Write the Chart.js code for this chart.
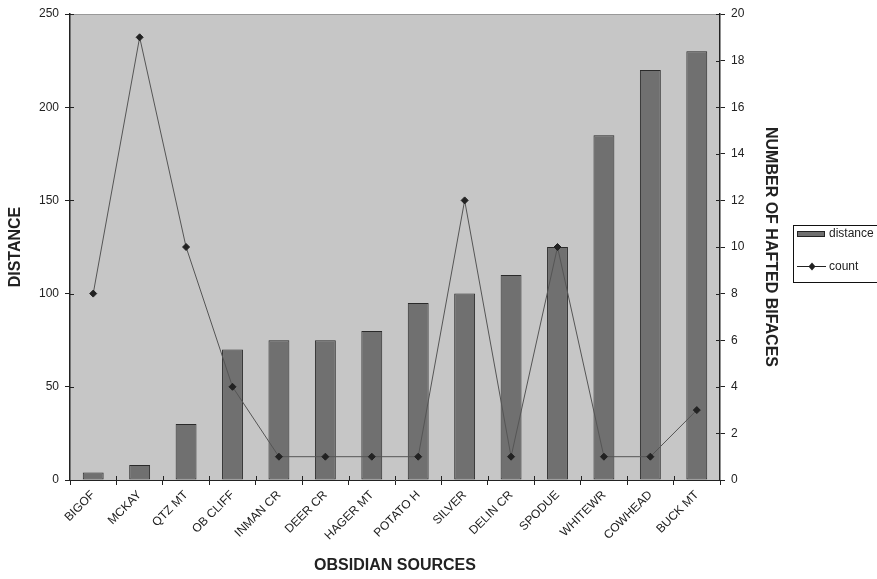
<!DOCTYPE html>
<html>
<head>
<meta charset="utf-8">
<script src="https://cdn.jsdelivr.net/npm/chart.js"></script>
<style>
  html, body { margin: 0; padding: 0; background: #fff; }
  #wrap { width: 877px; height: 579px; position: relative; }
</style>
</head>
<body>
<div id="wrap"><canvas id="chart" width="877" height="579"></canvas></div>
<script>
const sources = ['BIGOF', 'MCKAY', 'QTZ MT', 'OB CLIFF', 'INMAN CR', 'DEER CR', 'HAGER MT',
  'POTATO H', 'SILVER', 'DELIN CR', 'SPODUE', 'WHITEWR', 'COWHEAD', 'BUCK MT'];
const distance = [4, 8, 30, 70, 75, 75, 80, 95, 100, 110, 125, 185, 220, 230];
const count = [8, 19, 10, 4, 1, 1, 1, 1, 12, 1, 10, 1, 1, 3];

const FONT = 'Liberation Sans, Arial, sans-serif';
const INK = '#222';

// grey plot background + thin top border
const plotBg = {
  id: 'plotBg',
  beforeDraw(chart) {
    const a = chart.chartArea, ctx = chart.ctx;
    ctx.save();
    ctx.fillStyle = '#c6c6c6';
    ctx.fillRect(a.left, a.top, a.right - a.left, a.bottom - a.top);
    ctx.strokeStyle = '#999';
    ctx.lineWidth = 1;
    ctx.beginPath();
    ctx.moveTo(a.left, a.top + 0.5);
    ctx.lineTo(a.right, a.top + 0.5);
    ctx.stroke();
    ctx.restore();
  }
};

// the original's tick marks cross the axes, so add the inner half
const innerTicks = {
  id: 'innerTicks',
  afterDraw(chart) {
    const ctx = chart.ctx, a = chart.chartArea;
    const { y, y1, x } = chart.scales;
    ctx.save();
    ctx.strokeStyle = INK;
    ctx.lineWidth = 1;
    ctx.beginPath();
    y.ticks.forEach(t => {
      const py = Math.round(y.getPixelForValue(t.value)) + 0.5;
      ctx.moveTo(a.left, py); ctx.lineTo(a.left + 4, py);
    });
    y1.ticks.forEach(t => {
      const py = Math.round(y1.getPixelForValue(t.value)) + 0.5;
      ctx.moveTo(a.right - 4, py); ctx.lineTo(a.right, py);
    });
    const step = (a.right - a.left) / sources.length;
    for (let i = 1; i < sources.length; i++) {
      const px = Math.round(a.left + i * step) + 0.5;
      ctx.moveTo(px, a.bottom); ctx.lineTo(px, a.bottom - 4);
    }
    ctx.stroke();
    ctx.restore();
  }
};

// boxed legend on the right, like the original
const boxLegend = {
  id: 'boxLegend',
  afterDraw(chart) {
    const ctx = chart.ctx;
    ctx.save();
    ctx.strokeStyle = '#111';
    ctx.lineWidth = 1;
    ctx.strokeRect(793.5, 225.5, 90, 57);
    // bar swatch
    ctx.fillStyle = '#707070';
    ctx.fillRect(797, 231, 28, 6);
    ctx.strokeStyle = '#222';
    ctx.strokeRect(797.5, 231.5, 27, 5);
    // line swatch
    ctx.beginPath();
    ctx.moveTo(797, 266.5);
    ctx.lineTo(826, 266.5);
    ctx.stroke();
    ctx.fillStyle = '#222';
    ctx.beginPath();
    ctx.moveTo(812, 262.5); ctx.lineTo(815.5, 266.5); ctx.lineTo(812, 270.5); ctx.lineTo(808.5, 266.5);
    ctx.closePath();
    ctx.fill();
    ctx.fillStyle = INK;
    ctx.font = '12px ' + FONT;
    ctx.textBaseline = 'middle';
    ctx.fillText('distance', 829, 234);
    ctx.fillText('count', 829, 267);
    ctx.restore();
  }
};

new Chart(document.getElementById('chart'), {
  data: {
    labels: sources,
    datasets: [
      {
        type: 'line',
        label: 'count',
        data: count,
        yAxisID: 'y1',
        borderColor: '#555',
        borderWidth: 1,
        pointStyle: 'rectRot',
        pointRadius: 3.5,
        pointBackgroundColor: '#222',
        pointBorderColor: '#222',
        tension: 0,
        order: 0
      },
      {
        type: 'bar',
        label: 'distance',
        data: distance,
        yAxisID: 'y',
        backgroundColor: '#707070',
        borderColor: '#2a2a2a',
        borderWidth: 1,
        borderSkipped: false,
        categoryPercentage: 1,
        barPercentage: 0.45,
        order: 1
      }
    ]
  },
  options: {
    responsive: false,
    animation: false,
    layout: { padding: { left: 0, top: 14, right: 95, bottom: 0 } },
    plugins: { legend: { display: false }, tooltip: { enabled: false } },
    scales: {
      x: {
        offset: true,
        grid: { display: true, drawOnChartArea: false, offset: true, tickLength: 5, color: INK, tickColor: INK },
        border: { color: INK, width: 1 },
        ticks: { color: INK, font: { family: FONT, size: 12 }, minRotation: 45, maxRotation: 45, autoSkip: false },
        title: { display: true, text: 'OBSIDIAN SOURCES', color: INK, font: { family: FONT, size: 16, weight: 'bold' }, padding: { top: 4, bottom: 4 } },
        afterFit(s) { s.height = 99; }
      },
      y: {
        position: 'left',
        min: 0, max: 250,
        ticks: { stepSize: 50, color: INK, font: { family: FONT, size: 12 }, padding: 6 },
        grid: { drawOnChartArea: false, tickLength: 5, color: INK, tickColor: INK },
        border: { color: INK, width: 1.5 },
        title: { display: true, text: 'DISTANCE', color: INK, font: { family: FONT, size: 16, weight: 'bold' }, padding: { top: 6, bottom: 0 } },
        afterFit(s) { s.width = 70; }
      },
      y1: {
        position: 'right',
        min: 0, max: 20,
        ticks: { stepSize: 2, color: INK, font: { family: FONT, size: 12 }, padding: 6 },
        grid: { drawOnChartArea: false, tickLength: 5, color: INK, tickColor: INK },
        border: { color: INK, width: 1.5 },
        title: { display: true, text: 'NUMBER OF HAFTED BIFACES', color: INK, font: { family: FONT, size: 16, weight: 'bold' }, padding: { top: 2, bottom: 0 } },
        afterFit(s) { s.width = 62; }
      }
    }
  },
  plugins: [plotBg, innerTicks, boxLegend]
});
</script>
</body>
</html>
